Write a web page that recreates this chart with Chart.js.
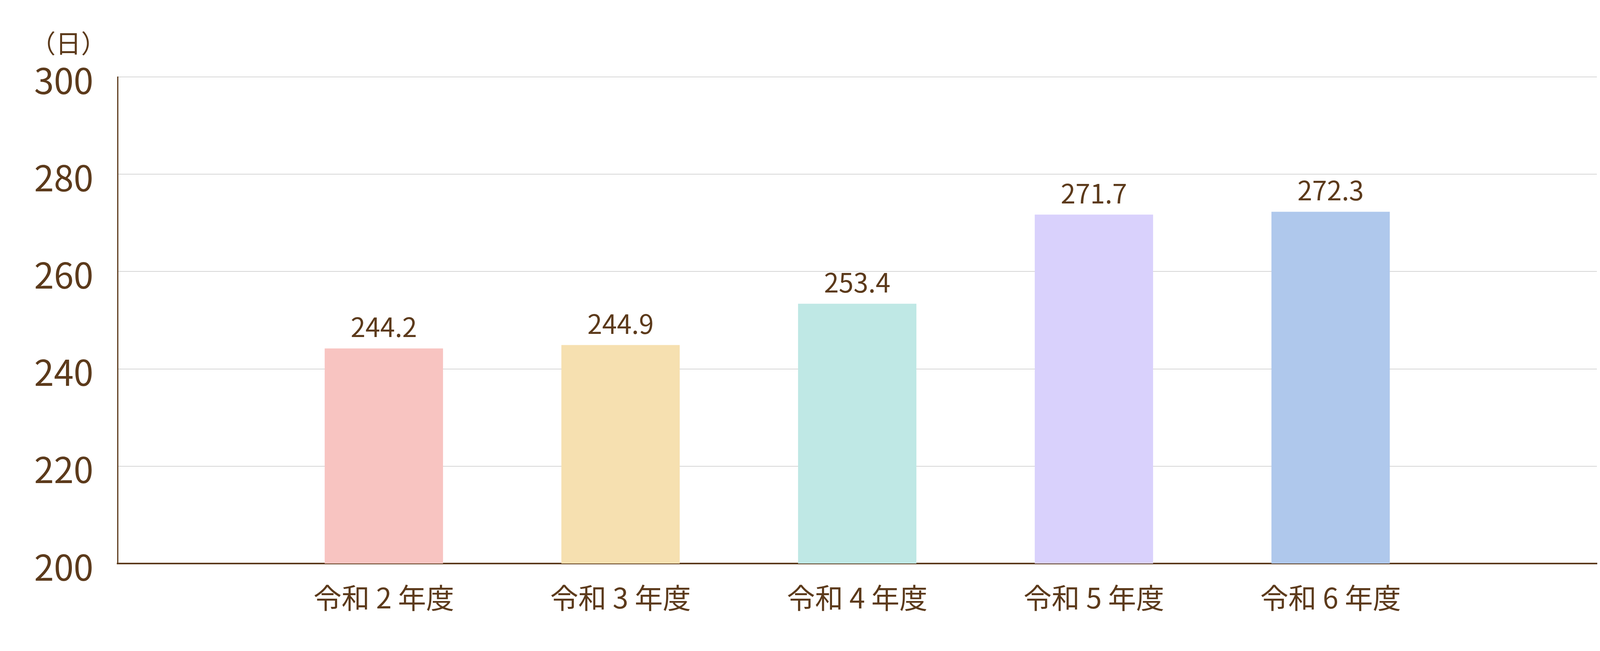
<!DOCTYPE html>
<html lang="ja">
<head>
<meta charset="utf-8">
<title>日数の推移</title>
<script src="https://cdn.jsdelivr.net/npm/chart.js@4.4.1/dist/chart.umd.min.js"></script>
<style>
  html, body { margin:0; padding:0; background:#fff; overflow:hidden; }
  #wrap { width:4167px; height:1667px; position:relative; }
</style>
</head>
<body>
<div id="wrap"><canvas id="chart"></canvas></div>
<script>
// データ
const years  = ["令和 2 年度","令和 3 年度","令和 4 年度","令和 5 年度","令和 6 年度"];
const days   = [244.2, 244.9, 253.4, 271.7, 272.3];
const colors = ["#f8c4c1","#f6e0b0","#bfe8e5","#d9d1fc","#afc8ec"];
const yTicks = [200, 220, 240, 260, 280, 300];
const unit   = "（日）";

const BROWN = "#5c3a1b";
const FONT  = "'Noto Sans CJK JP', 'Noto Sans', sans-serif";

// 棒の上に数値
const valueLabels = {
  id: "valueLabels",
  afterDatasetsDraw(chart){
    const ctx = chart.ctx;
    const meta = chart.getDatasetMeta(0);
    ctx.save();
    ctx.fillStyle = BROWN;
    ctx.font = "68px " + FONT;
    ctx.textAlign = "center";
    ctx.textBaseline = "alphabetic";
    meta.data.forEach((bar, i)=>{
      ctx.fillText(days[i].toFixed(1), bar.x, bar.y - 29);
    });
    ctx.restore();
  }
};

// 単位（日）
const unitLabel = {
  id: "unitLabel",
  afterDraw(chart){
    const {ctx, chartArea} = chart;
    ctx.save();
    ctx.fillStyle = BROWN;
    ctx.font = "65px " + FONT;
    ctx.textAlign = "center";
    ctx.textBaseline = "middle";
    ctx.fillText(unit, chartArea.left - 126, chartArea.top - 87);
    ctx.restore();
  }
};

new Chart(document.getElementById("chart"), {
  type: "bar",
  data: {
    datasets: [{
      data: days.map((v, i)=>({ x: i, y: v })),
      backgroundColor: colors,
      borderWidth: 0,
      barPercentage: 0.5,
      categoryPercentage: 1.0
    }]
  },
  options: {
    responsive: true,
    maintainAspectRatio: false,
    devicePixelRatio: 1,
    animation: false,
    layout: { padding: { left: 0, right: 79, top: 197, bottom: 0 } },
    plugins: { legend: { display:false }, tooltip: { enabled:false } },
    scales: {
      x: {
        type: "linear",
        offset: false,
        min: -1.125,
        max: 5.125,
        grid: { display:false, drawTicks:false },
        border: { display:true, color: BROWN, width: 4 },
        afterBuildTicks: axis => { axis.ticks = years.map((_, i)=>({ value: i })); },
        afterFit: axis => { axis.height = 224; },
        ticks: {
          color: BROWN,
          font: { family: FONT, size: 72 },
          padding: 44,
          maxRotation: 0,
          autoSkip: false,
          callback: v => years[v] ?? ""
        }
      },
      y: {
        min: 200,
        max: 300,
        grid: { color: "#d6d6d6", lineWidth: 2, drawTicks:false },
        border: { display:true, color: BROWN, width: 3 },
        afterBuildTicks: axis => { axis.ticks = yTicks.map(v=>({ value: v })); },
        afterFit: axis => { axis.width = 301; },
        ticks: {
          color: BROWN,
          font: { family: FONT, size: 91 },
          padding: 62,
          labelOffset: 9
        }
      }
    }
  },
  plugins: [valueLabels, unitLabel]
});
</script>
</body>
</html>
